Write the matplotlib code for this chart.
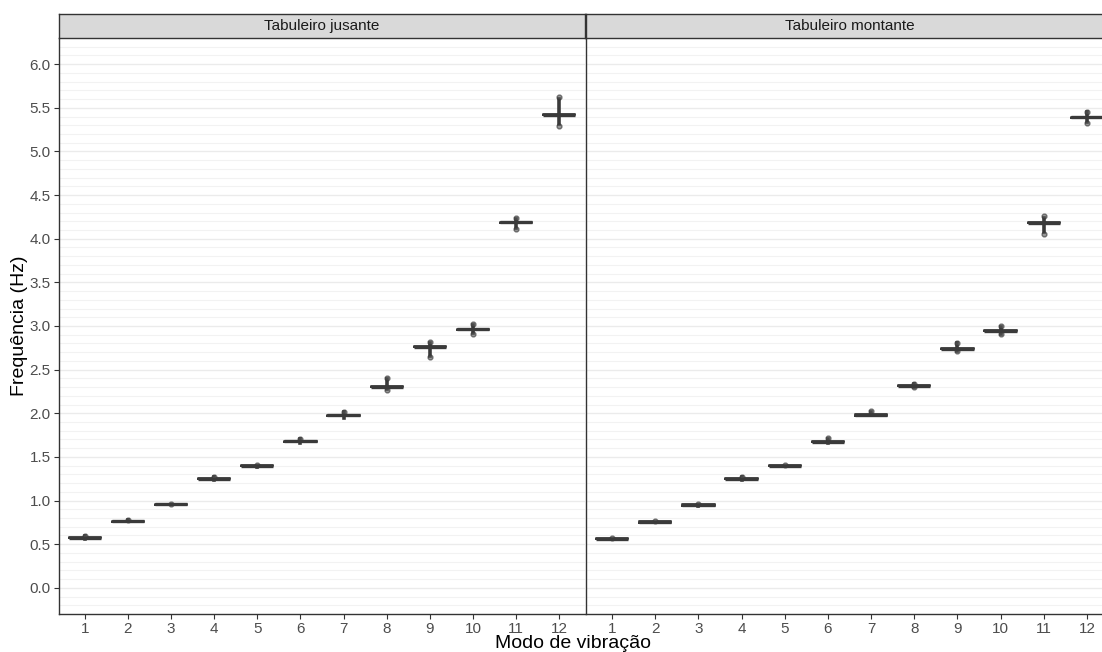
import matplotlib
matplotlib.use("Agg")
import matplotlib.pyplot as plt
import numpy as np

plt.rcParams["font.family"] = ["Liberation Sans", "DejaVu Sans"]

# Modes of vibration (x categories)
modes = [1, 2, 3, 4, 5, 6, 7, 8, 9, 10, 11, 12]
panels = ["Tabuleiro jusante", "Tabuleiro montante"]

# Tabuleiro jusante
med_j = [0.575, 0.76, 0.955, 1.25, 1.40, 1.68, 1.978, 2.306, 2.765, 2.96, 4.19, 5.42]
lo_j = [0.565, 0.75, 0.95, 1.24, 1.39, 1.665, 1.95, 2.28, 2.66, 2.92, 4.12, 5.32]
hi_j = [0.59, 0.775, 0.965, 1.27, 1.41, 1.70, 2.01, 2.39, 2.81, 3.01, 4.23, 5.60]
fliers_j = [[0.59], [0.775], [0.965], [1.27], [1.405], [1.70], [2.01],
            [2.40, 2.27], [2.82, 2.65], [3.02, 2.91], [4.24, 4.11], [5.62, 5.29]]

# Tabuleiro montante
med_m = [0.565, 0.755, 0.95, 1.25, 1.40, 1.675, 1.98, 2.315, 2.74, 2.945, 4.185, 5.39]
lo_m = [0.555, 0.745, 0.945, 1.24, 1.395, 1.655, 1.965, 2.30, 2.71, 2.91, 4.08, 5.34]
hi_m = [0.575, 0.77, 0.96, 1.27, 1.405, 1.71, 2.02, 2.34, 2.80, 2.99, 4.24, 5.45]
fliers_m = [[0.575], [0.77], [0.96], [1.27], [1.405], [1.715], [2.025],
            [2.34, 2.30], [2.80, 2.71], [2.995, 2.91], [4.255, 4.05], [5.455, 5.33]]

half_box = 0.007  # tiny IQR, boxes collapse to a thick bar

W, H = 1102, 652
fig = plt.figure(figsize=(W / 100, H / 100), dpi=100)

dark = "#333333"


def px_axes(x0, x1, y0, y1):
    # pixel box (top-left origin) -> figure axes
    return fig.add_axes([x0 / W, (H - y1) / H, (x1 - x0) / W, (y1 - y0) / H])


def make_stats(med, lo, hi, fl):
    stats = []
    for m, a, b, f in zip(med, lo, hi, fl):
        stats.append({"med": m, "q1": m - half_box, "q3": m + half_box,
                      "whislo": a, "whishi": b, "fliers": f})
    return stats


data = [(med_j, lo_j, hi_j, fliers_j), (med_m, lo_m, hi_m, fliers_m)]
bounds = [(59, 585), (586, 1113)]

for i, (x0, x1) in enumerate(bounds):
    ax = px_axes(x0, x1, 38, 614)
    stats = make_stats(*data[i])
    ax.bxp(stats, positions=modes, widths=0.75, showcaps=False,
           boxprops=dict(color="#3a3a3a", linewidth=1.3),
           medianprops=dict(color="#3a3a3a", linewidth=2.4),
           whiskerprops=dict(color="#3a3a3a", linewidth=2.6),
           flierprops=dict(marker="o", markersize=3.5, markerfacecolor="#555555",
                           markeredgecolor=dark, alpha=0.6))
    ax.set_xlim(0.4, 12.6)
    ax.set_ylim(-0.3, 6.3)
    ax.set_xticks(modes)
    ax.set_xticklabels([str(m) for m in modes])
    ax.set_yticks(np.arange(0, 6.01, 0.5))
    ax.set_yticks(np.arange(-0.2, 6.25, 0.1), minor=True)
    ax.yaxis.grid(True, which="major", color="#EBEBEB", linewidth=1.0)
    ax.yaxis.grid(True, which="minor", color="#F2F2F2", linewidth=0.8)
    ax.set_axisbelow(True)
    for s in ["top", "right"]:
        ax.spines[s].set_visible(False)
    for s in ["left", "bottom"]:
        ax.spines[s].set_color(dark)
        ax.spines[s].set_linewidth(1.0)
    ax.tick_params(axis="both", which="major", length=3.5, color=dark,
                   labelcolor="#4D4D4D", labelsize=11, pad=2.5)
    ax.tick_params(axis="y", which="minor", length=0)
    if i == 0:
        ax.set_yticklabels(["%.1f" % v for v in np.arange(0, 6.01, 0.5)])
    else:
        ax.tick_params(axis="y", which="major", length=0, labelleft=False)

    # facet strip
    st = px_axes(x0, x1, 14, 38)
    st.set_facecolor("#D9D9D9")
    st.set_xticks([])
    st.set_yticks([])
    for s in st.spines.values():
        s.set_color(dark)
        s.set_linewidth(1.0)
    st.text(0.5, 0.5, panels[i], ha="center", va="center",
            fontsize=11, color="#1A1A1A", transform=st.transAxes)

fig.text(573 / W, 1 - 644 / H, "Modo de vibração", ha="center", va="center",
         fontsize=14, color="black")
fig.text(20 / W, 1 - 326 / H, "Frequência (Hz)", ha="center", va="center",
         rotation=90, fontsize=14, color="black")

fig.savefig("out.png", dpi=100)
